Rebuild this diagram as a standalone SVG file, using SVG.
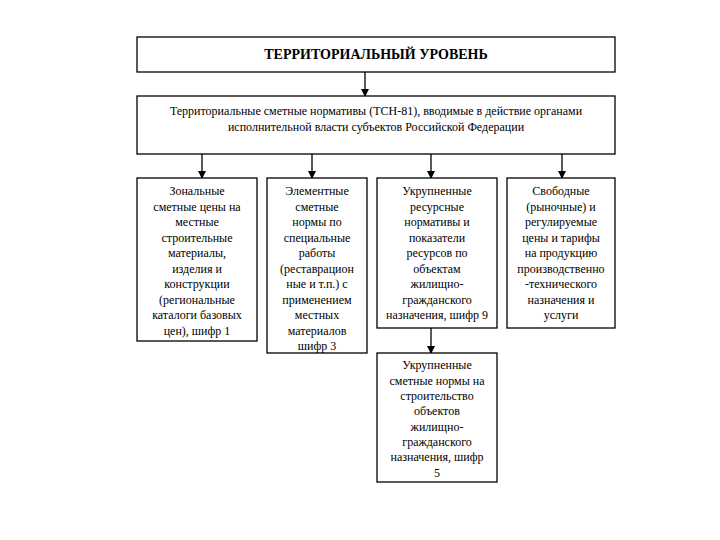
<svg xmlns="http://www.w3.org/2000/svg" width="720" height="540" viewBox="0 0 720 540">
<defs>
<marker id="ah" markerWidth="8" markerHeight="8" refX="7" refY="4" orient="auto" markerUnits="userSpaceOnUse">
<path d="M0,0 L8,4 L0,8 Z" fill="#000"/>
</marker>
<style>
.box{fill:#fff;stroke:#000;stroke-width:1.3}
.t{font-family:"Liberation Serif","Times New Roman",serif;font-size:12px;fill:#000;text-anchor:middle}
.h{font-family:"Liberation Serif","Times New Roman",serif;font-size:14px;font-weight:bold;fill:#000;text-anchor:middle}
.c{stroke:#000;stroke-width:1.3;fill:none;marker-end:url(#ah)}
</style>
</defs>
<rect width="720" height="540" fill="#fff"/>
<g id="connectors">
<line class="c" x1="365" y1="72" x2="365" y2="96"/>
<line class="c" x1="202" y1="154" x2="202" y2="178"/>
<line class="c" x1="312" y1="154" x2="312" y2="178"/>
<line class="c" x1="431" y1="154" x2="431" y2="178"/>
<line class="c" x1="562" y1="154" x2="562" y2="178"/>
<line class="c" x1="431" y1="328" x2="431" y2="353"/>
</g>
<g id="n-title">
<rect class="box" x="137" y="37" width="478" height="35"/>
<text class="h" x="376" y="59">ТЕРРИТОРИАЛЬНЫЙ УРОВЕНЬ</text>
</g>
<g id="n-tsn">
<rect class="box" x="137" y="96" width="478" height="58"/>
<text class="t" x="376" y="115">Территориальные сметные нормативы (ТСН-81), вводимые в действие органами</text>
<text class="t" x="376" y="131">исполнительной власти субъектов Российской Федерации</text>
</g>
<g id="n-zonal">
<rect class="box" x="137" y="178" width="120" height="163"/>
<text class="t" x="197" y="195">Зональные</text>
<text class="t" x="197" y="211">сметные цены на</text>
<text class="t" x="197" y="226">местные</text>
<text class="t" x="197" y="242">строительные</text>
<text class="t" x="197" y="257">материалы,</text>
<text class="t" x="197" y="273">изделия и</text>
<text class="t" x="197" y="288">конструкции</text>
<text class="t" x="197" y="304">(региональные</text>
<text class="t" x="197" y="319">каталоги базовых</text>
<text class="t" x="197" y="335">цен), шифр 1</text>
</g>
<g id="n-element">
<rect class="box" x="267" y="178" width="100" height="175"/>
<text class="t" x="317" y="195">Элементные</text>
<text class="t" x="317" y="211">сметные</text>
<text class="t" x="317" y="226">нормы по</text>
<text class="t" x="317" y="242">специальные</text>
<text class="t" x="317" y="257">работы</text>
<text class="t" x="317" y="273">(реставрацион</text>
<text class="t" x="317" y="288">ные и т.п.) с</text>
<text class="t" x="317" y="304">применением</text>
<text class="t" x="317" y="319">местных</text>
<text class="t" x="317" y="335">материалов</text>
<text class="t" x="317" y="350">шифр 3</text>
</g>
<g id="n-resource">
<rect class="box" x="377" y="178" width="120" height="150"/>
<text class="t" x="437" y="195">Укрупненные</text>
<text class="t" x="437" y="211">ресурсные</text>
<text class="t" x="437" y="226">нормативы и</text>
<text class="t" x="437" y="242">показатели</text>
<text class="t" x="437" y="257">ресурсов по</text>
<text class="t" x="437" y="273">объектам</text>
<text class="t" x="437" y="288">жилищно-</text>
<text class="t" x="437" y="304">гражданского</text>
<text class="t" x="437" y="319">назначения, шифр 9</text>
</g>
<g id="n-free">
<rect class="box" x="507" y="178" width="108" height="150"/>
<text class="t" x="561" y="195">Свободные</text>
<text class="t" x="561" y="211">(рыночные) и</text>
<text class="t" x="561" y="226">регулируемые</text>
<text class="t" x="561" y="242">цены и тарифы</text>
<text class="t" x="561" y="257">на продукцию</text>
<text class="t" x="561" y="273">производственно</text>
<text class="t" x="561" y="288">-технического</text>
<text class="t" x="561" y="304">назначения и</text>
<text class="t" x="561" y="319">услуги</text>
</g>
<g id="n-enlarged">
<rect class="box" x="377" y="353" width="120" height="129"/>
<text class="t" x="437" y="369">Укрупненные</text>
<text class="t" x="437" y="385">сметные нормы на</text>
<text class="t" x="437" y="400">строительство</text>
<text class="t" x="437" y="415">объектов</text>
<text class="t" x="437" y="431">жилищно-</text>
<text class="t" x="437" y="446">гражданского</text>
<text class="t" x="437" y="461">назначения, шифр</text>
<text class="t" x="437" y="477">5</text>
</g>
</svg>
